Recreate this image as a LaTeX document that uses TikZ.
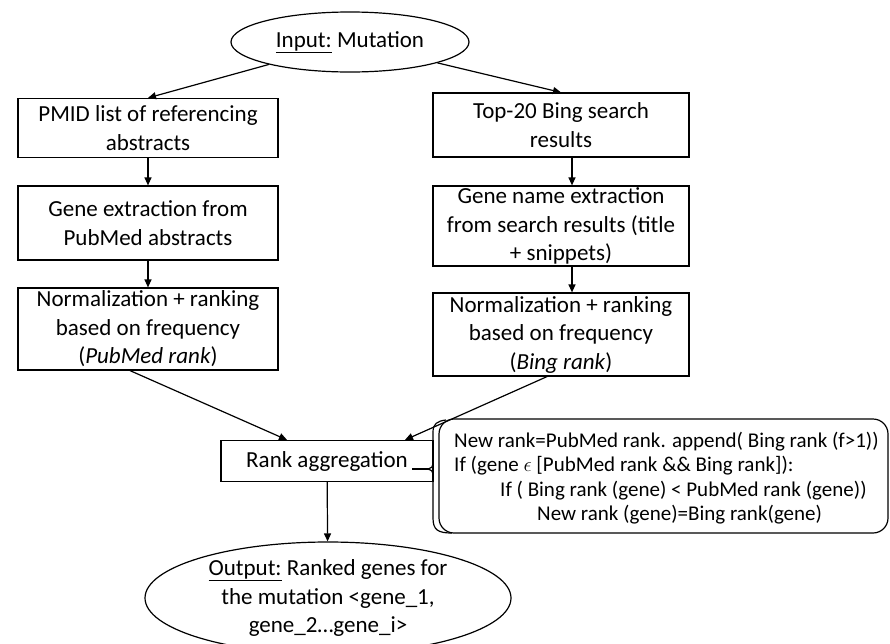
\documentclass[tikz,border=0pt]{standalone}
\usepackage{fontspec}
\setmainfont{Carlito}
\usetikzlibrary{arrows.meta,positioning,shapes.geometric}

\begin{document}
\begin{tikzpicture}[x=1pt,y=-1pt,>={Triangle[length=8pt,width=7pt]},font=\fontsize{23}{28.5}\selectfont]
\tikzset{stagebox/.style={draw,line width=1.2pt,align=center,inner sep=0pt}, term/.style={ellipse,draw,line width=1.2pt,align=center,inner sep=0pt}, flow/.style={->,line width=1.2pt}, callout/.style={line width=1.2pt}}
\useasboundingbox (0,0) rectangle (890,643);
\clip (0,0) rectangle (890,643);
\node[term,minimum width=238pt,minimum height=60pt] (input) at (350,42) {\underline{Input:} Mutation};
\node[stagebox,minimum width=260pt,minimum height=59pt] (pmid) at (148,128) {PMID list of referencing\\abstracts};
\node[stagebox,minimum width=260pt,minimum height=74pt] (genex) at (148,223) {Gene extraction from\\PubMed abstracts};
\node[stagebox,minimum width=260pt,minimum height=82pt] (pmrank) at (148,329) {Normalization + ranking\\based on frequency\\(\textit{PubMed rank})};
\node[stagebox,minimum width=256pt,minimum height=64pt] (top20) at (561,125) {Top-20 Bing search\\results};
\node[stagebox,minimum width=256pt,minimum height=80pt] (genename) at (561,226) {Gene name extraction\\from search results (title\\+ snippets)};
\node[stagebox,minimum width=256pt,minimum height=83pt] (bingrank) at (561,334.5) {Normalization + ranking\\based on frequency\\(\textit{Bing rank})};
\node[stagebox,minimum width=212pt,minimum height=41pt] (rankagg) at (327,461) {Rank aggregation};
\node[term,minimum width=366pt,minimum height=112pt] (output) at (328,598) {\underline{Output:} Ranked genes for\\the mutation <gene\_1,\\gene\_2\ldots gene\_i>};
\draw[flow] (input) -- (pmid.north);
\draw[flow] (input) -- (top20.north);
\draw[flow] (pmid) -- (genex);
\draw[flow] (genex) -- (pmrank);
\draw[flow] ([xshift=11pt]top20.south) -- ([xshift=11pt]genename.north);
\draw[flow] ([xshift=11pt]genename.south) -- ([xshift=11pt]bingrank.north);
\draw[flow] ([xshift=-18pt]pmrank.south) -- ([xshift=-40pt]rankagg.north);
\draw[flow] ([xshift=-14pt]bingrank.south) -- ([xshift=78pt]rankagg.north);
\draw[flow] (rankagg) -- (output);
\draw[callout,rounded corners=15pt] (439,419) rectangle (888,533);
\coordinate (tip) at (428,469);
\draw[callout] (446,420) .. controls (437,421) and (433,424) .. (433,432) -- (433,462) .. controls (433,467) and (431,469) .. (tip) .. controls (431,469) and (433,471) .. (433,476) -- (433,518) .. controls (433,530) and (438,533) .. (452,533);
\draw[callout] (tip) -- (412,469);
\node[anchor=west,align=left,inner sep=0pt,font=\fontsize{21}{24.4}\selectfont] (rule) at (454,478) {New rank=PubMed rank. append( Bing rank (f>1))\\If (gene $\epsilon$ [PubMed rank \&\& Bing rank]):\\\hspace*{46pt}If ( Bing rank (gene) < PubMed rank (gene))\\\hspace*{83pt}New rank (gene)=Bing rank(gene)};
\end{tikzpicture}
\end{document}
